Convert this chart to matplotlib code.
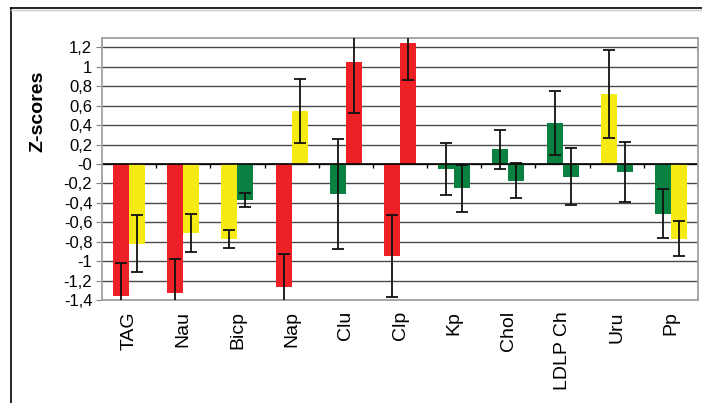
import numpy as np
import matplotlib
matplotlib.use('Agg')
import matplotlib.pyplot as plt
from matplotlib.lines import Line2D

plt.rcParams['font.family'] = ['Liberation Sans', 'DejaVu Sans']

# data
categories = ['TAG', 'Nau', 'Bicp', 'Nap', 'Clu', 'Clp', 'Kp', 'Chol', 'LDLP Ch', 'Uru', 'Pp']
first_vals = [-1.36, -1.33, -0.77, -1.27, -0.31, -0.95, -0.05, 0.15, 0.42, 0.72, -0.51]
first_err = [0.34, 0.35, 0.09, 0.34, 0.57, 0.42, 0.27, 0.20, 0.33, 0.45, 0.25]
first_col = ['r', 'r', 'y', 'r', 'g', 'r', 'g', 'g', 'g', 'y', 'g']
second_vals = [-0.82, -0.71, -0.37, 0.55, 1.05, 1.25, -0.25, -0.17, -0.13, -0.08, -0.77]
second_err = [0.29, 0.195, 0.07, 0.33, 0.53, 0.39, 0.24, 0.18, 0.29, 0.31, 0.18]
second_col = ['y', 'y', 'g', 'y', 'r', 'r', 'g', 'g', 'g', 'g', 'y']
yticks = np.arange(-1.4, 1.21, 0.2)

palette = {'r': '#ED2125', 'y': '#F6EA14', 'g': '#0A8140'}

fig = plt.figure(figsize=(7.02, 4.03), dpi=100)
ax = fig.add_axes([102 / 702, 1 - 300 / 403, 596 / 702, (300 - 37.7) / 403])

x = np.arange(len(categories)) + 0.5
w = 0.295

ax.bar(x - w / 2, first_vals, w, color=[palette[c] for c in first_col], zorder=2)
ax.bar(x + w / 2, second_vals, w, color=[palette[c] for c in second_col], zorder=2)
for xs, vals, errs in [(x - w / 2, first_vals, first_err), (x + w / 2, second_vals, second_err)]:
    ax.errorbar(xs, vals, yerr=errs, fmt='none', ecolor='#111111', elinewidth=1.3,
                capsize=4, capthick=1.3, zorder=3)

ax.set_xlim(0, len(categories))
ax.set_ylim(-1.4, 1.3)
ax.set_yticks(yticks)
ax.set_yticklabels([f"{round(v, 1):g}".replace('.', ',') for v in yticks], fontsize=12)
ax.tick_params(axis='y', length=4, color='#808080', pad=3)
ax.set_xticks(x)
ax.set_xticklabels(categories, rotation=90, fontsize=14)
ax.tick_params(axis='x', length=0, pad=8)

ax.grid(axis='y', color='#4a4a4a', linewidth=1, zorder=1)
ax.axhline(0, color='black', linewidth=1.2, zorder=2.5)
ax.vlines(np.arange(1, len(categories)), -0.045, 0, color='black', linewidth=1, zorder=2.5)
for s in ax.spines.values():
    s.set_color('#a0a0a0')
    s.set_linewidth(1.3)

fig.text(38 / 702, 1 - 111 / 403, 'Z-scores', rotation=90, ha='center', va='center',
         fontsize=14, fontweight='bold')

# outer frame (left and top edges visible)
fig.add_artist(Line2D([10.5 / 702, 10.5 / 702], [0, 1 - 8 / 403], transform=fig.transFigure,
                      color='black', linewidth=1.2))
fig.add_artist(Line2D([10.5 / 702, 1], [1 - 8 / 403, 1 - 8 / 403], transform=fig.transFigure,
                      color='black', linewidth=1.2))
fig.add_artist(Line2D([11 / 702, 1], [1 - 9.5 / 403, 1 - 9.5 / 403], transform=fig.transFigure,
                      color='#cccccc', linewidth=1))

fig.savefig('out.png', dpi=100)
